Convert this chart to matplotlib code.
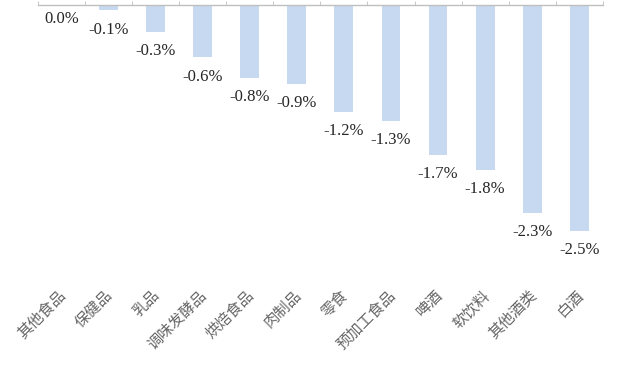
import matplotlib
matplotlib.use("Agg")
import matplotlib.pyplot as plt
import matplotlib.transforms as mtransforms
import numpy as np

categories = ["其他食品", "保健品", "乳品", "调味发酵品", "烘焙食品", "肉制品",
              "零食", "预加工食品", "啤酒", "软饮料", "其他酒类", "白酒"]
values = [0.0, -0.06, -0.30, -0.58, -0.81, -0.87, -1.18, -1.28, -1.66, -1.82, -2.30, -2.50]

fig = plt.figure(figsize=(6.4, 3.83), dpi=100)
ax = fig.add_axes([0.059, 0.262, 0.883, 0.725])

x = np.arange(len(categories))
ax.bar(x, values, width=0.4, color="#C6D9F0", zorder=2)

ax.set_xlim(-0.5, len(categories) - 0.5)
ax.set_ylim(-3.07, 0)
ax.set_yticks([])
for s in ["left", "right", "bottom"]:
    ax.spines[s].set_visible(False)
ax.spines["top"].set_color("#BFBFBF")
ax.spines["top"].set_linewidth(1.0)

ax.set_xticks(x)
ax.set_xticklabels(categories, rotation=45, ha="right", va="top",
                   rotation_mode="anchor", fontsize=11, color="#666666",
                   family=["Noto Sans CJK SC", "DejaVu Sans"])
ax.tick_params(axis="x", which="major", length=0, pad=3, bottom=True, top=False)
shift = mtransforms.ScaledTranslation(-4 / 100, 0, fig.dpi_scale_trans)
for lbl in ax.get_xticklabels():
    lbl.set_transform(lbl.get_transform() + shift)
ax.set_xticks(np.arange(-0.5, len(categories), 1.0), minor=True)
ax.tick_params(axis="x", which="minor", top=True, bottom=False, length=3,
               color="#BFBFBF", direction="out")

for xi, v in zip(x, values):
    off = -4 if v == 0 else -8
    ax.annotate(f"{v:.1f}%", xy=(xi, v), xytext=(0, off), textcoords="offset points",
                ha="center", va="top", fontsize=12, color="#262626",
                family="Liberation Serif")

fig.savefig("out.png", dpi=100)
